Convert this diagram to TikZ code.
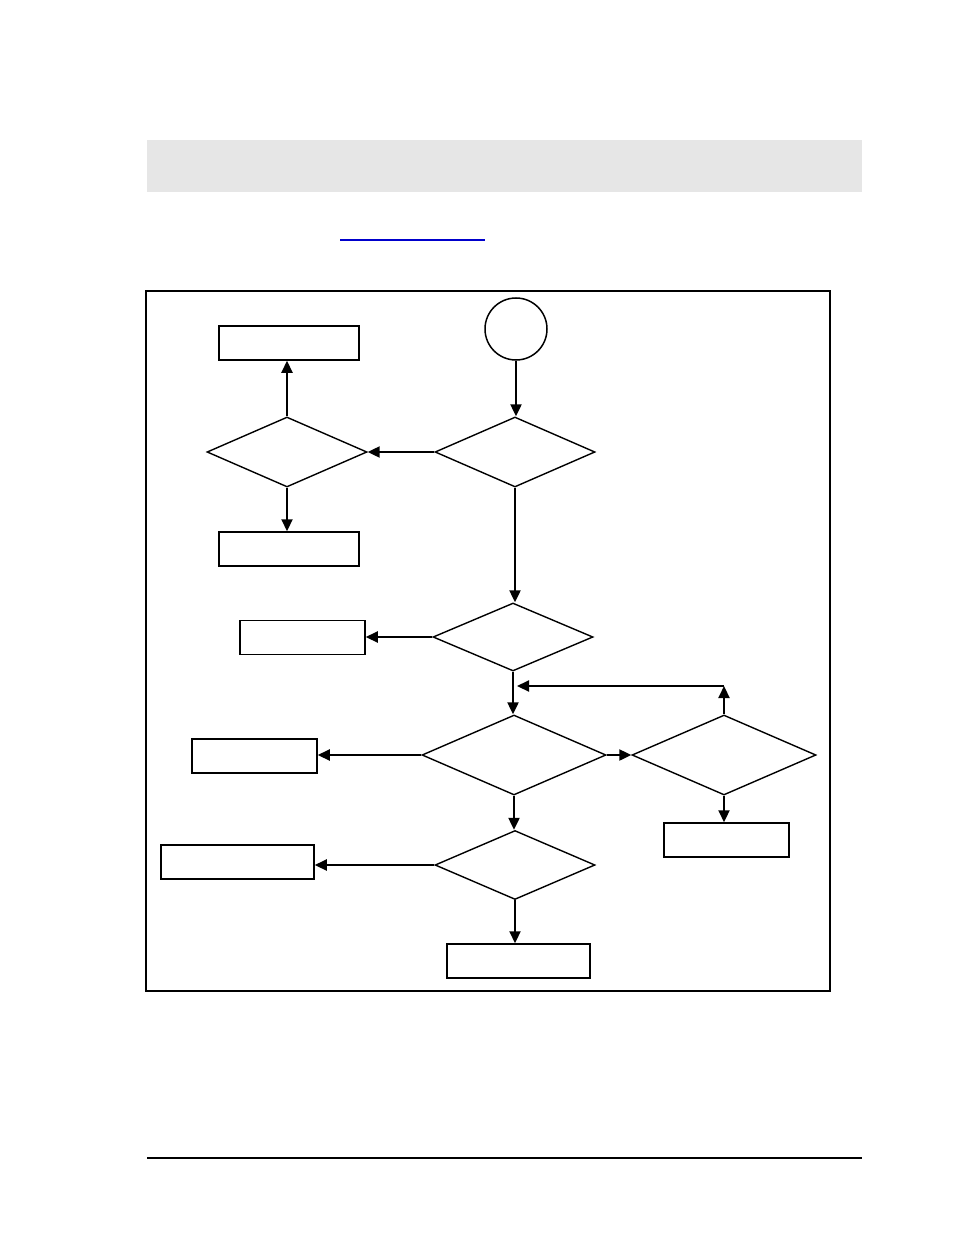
\documentclass[tikz,border=0pt]{standalone}
\usepackage{xcolor}
\usepackage{tikz}
\usetikzlibrary{shapes.geometric, arrows.meta, calc}
\definecolor{bandgray}{RGB}{230, 230, 230}
\definecolor{linkblue}{RGB}{0, 0, 204}

\begin{document}
\begin{tikzpicture}[
        x=0.5pt, y=-0.5pt,
        box/.style={rectangle, draw=black, line width=0.75pt, inner sep=0pt, minimum width=#1, minimum height=17pt},
        box/.default=70pt,
        decision/.style={diamond, draw=black, line width=0.7pt, inner sep=0pt, aspect=2.3},
        startnode/.style={circle, draw=black, line width=0.75pt, inner sep=0pt, minimum size=31pt},
        arr/.style={-{Triangle[length=6pt, width=5.5pt]}, line width=1.1pt},
    ]
    \useasboundingbox (0,0) rectangle (954,1235);

    % Kopfzeile und Rahmen
    \fill[bandgray] (147,140) rectangle (862,192);
    \draw[linkblue, line width=0.8pt] (340,240) -- (485,240);
    \draw[line width=0.6pt] (146,291) rectangle (830,991);
    \draw[line width=0.7pt] (147,1158) -- (862,1158);

    % Start
    \node[startnode] (start) at (516,329) {};

    % Entscheidungen
    \node[decision, minimum width=80pt, minimum height=35pt] (d1) at (287,452) {};
    \node[decision, minimum width=80pt, minimum height=35pt] (d2) at (515,452) {};
    \node[decision, minimum width=80pt, minimum height=34pt] (d3) at (513,637) {};
    \node[decision, minimum width=92pt, minimum height=40pt] (d4) at (514,755) {};
    \node[decision, minimum width=92pt, minimum height=40pt] (d5) at (724,755) {};
    \node[decision, minimum width=80pt, minimum height=34.5pt] (d6) at (515,865) {};

    % Kaesten
    \node[box] (ba) at (289,343) {};
    \node[box] (bb) at (289,549) {};
    \node[box=62.5pt] (bc) at (302.5,637.5) {};
    \node[box=62.5pt] (bd) at (254.5,756) {};
    \node[box=62.5pt] (be) at (726.5,840) {};
    \node[box=76.5pt] (bf) at (237.5,862) {};
    \node[box=71.5pt] (bg) at (518.5,961) {};

    % Ruecksprung
    \coordinate (turn) at (724,686);
    \coordinate (join) at (517,686);

    % Verbindungen
    \draw[arr] (start.south) -- (start.south |- d2.north);
    \draw[arr] (d2.west) -- (d1.east);
    \draw[arr] (d1.north) -- (d1.north |- ba.south);
    \draw[arr] (d1.south) -- (d1.south |- bb.north);
    \draw[arr] (d2.south) -- (d2.south |- d3.north);
    \draw[arr] (d3.west) -- (d3.west -| bc.east);
    \draw[arr] (d3.south) -- (d3.south |- d4.north);
    \draw[arr] (d4.west) -- (d4.west -| bd.east);
    \draw[arr] (d4.east) -- (d5.west);
    \draw[arr] (d5.north) -- (turn);
    \draw[arr] (turn) -- (join);
    \draw[arr] (d5.south) -- (d5.south |- be.north);
    \draw[arr] (d4.south) -- (d4.south |- d6.north);
    \draw[arr] (d6.west) -- (d6.west -| bf.east);
    \draw[arr] (d6.south) -- (d6.south |- bg.north);

\end{tikzpicture}
\end{document}
